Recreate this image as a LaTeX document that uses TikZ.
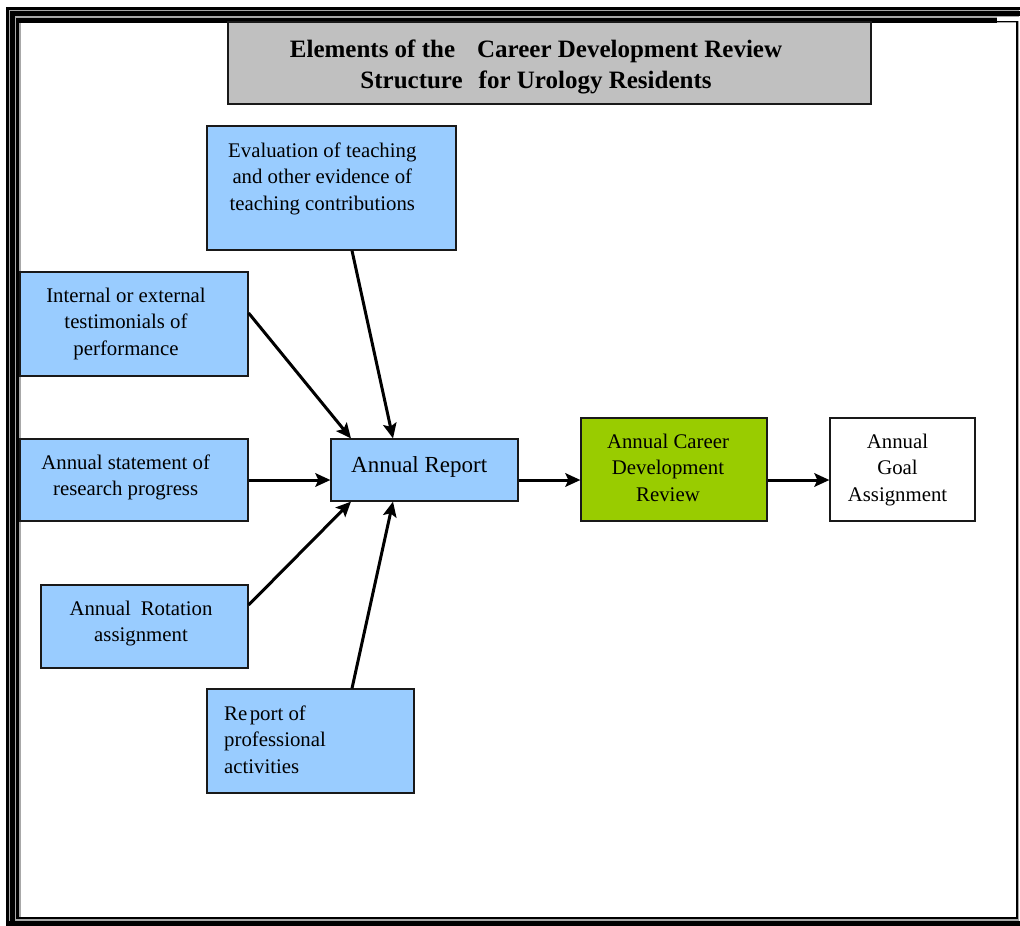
\documentclass[tikz,border=0pt]{standalone}
\usepackage{fontspec}
\setmainfont{Liberation Serif}
\newfontfamily\titlefont{Liberation Serif}
\usetikzlibrary{arrows.meta,calc}
\definecolor{boxblue}{HTML}{99CCFF}
\definecolor{boxgreen}{HTML}{99CC00}
\definecolor{titlegray}{HTML}{C0C0C0}
\definecolor{framegray}{HTML}{A8A8A8}
\newcommand{\mlc}[1]{\begin{tabular}[t]{@{}c@{}}#1\end{tabular}}
\newcommand{\mll}[1]{\begin{tabular}[t]{@{}l@{}}#1\end{tabular}}
\begin{document}
\begin{tikzpicture}[x=1pt,y=-1pt,
  box/.style={draw=black!90, line width=1.2pt, inner sep=0pt, rectangle},
  bluebox/.style={box, fill=boxblue},
  txt/.style={inner sep=0pt, anchor=base, font=\fontsize{20.8pt}{26.5pt}\selectfont},
  txtl/.style={txt, anchor=base west},
  conn/.style={line width=3pt, -{Stealth[length=15pt,width=13.5pt,inset=3pt]}}
]
\useasboundingbox (0,0) rectangle (1020,926);
% frame
\fill[white] (0,0) rectangle (1020,926);
\fill[framegray] (6,6.7) rectangle (1019,926);
\fill[white] (20.7,23) rectangle (1015.5,916.5);
\fill[white] (997,17.3) rectangle (1020,20.7);
\fill[white] (1019,17.3) rectangle (1020,921);
\fill[black] (6,6.7) rectangle (9,926);
\fill[black] (6,6.7) rectangle (1020,10);
\fill[black] (10.3,11.3) rectangle (15,926);
\fill[black] (10.3,11.3) rectangle (1020,15.7);
\fill[black] (6,921) rectangle (1020,926);
\fill[black] (16,18.3) rectangle (19.3,919.3);
\fill[black] (16,18.3) rectangle (997,22.7);
\fill[black] (997,20.7) rectangle (1017.7,21.6);
\fill[black] (1015.7,20.7) rectangle (1017.7,919.3);
\fill[black] (16,916.7) rectangle (1017.7,919.3);
% title
\node[box, fill=titlegray, minimum width=643pt, minimum height=82pt] (title) at (549.5,63) {};
\node[inner sep=0pt, anchor=base, font=\titlefont\bfseries\fontsize{25pt}{31pt}\selectfont] (titleT) at (536,57)
  {\mlc{Elements of the\hspace{22pt}Career Development Review\\Structure\hspace{16pt}for Urology Residents}};
% boxes
\node[bluebox, minimum width=249pt, minimum height=124pt] (eval) at (331.5,188) {};
\node[bluebox, minimum width=228pt, minimum height=104pt] (intl) at (134,324) {};
\node[bluebox, minimum width=228pt, minimum height=82pt] (stmt) at (134,480) {};
\node[bluebox, minimum width=207pt, minimum height=83pt] (rot) at (144.5,626.5) {};
\node[bluebox, minimum width=207pt, minimum height=104pt] (rep) at (310.5,741) {};
\node[bluebox, minimum width=187pt, minimum height=62pt] (ar) at (424.5,470) {};
\node[box, fill=boxgreen, minimum width=186pt, minimum height=103pt] (acdr) at (674,469.5) {};
\node[box, fill=white, minimum width=145pt, minimum height=103pt] (goal) at (902.5,469.5) {};
% texts
\node[txt] (evalT) at (322.3,157) {\mlc{Evaluation of teaching\\and other evidence of\\teaching contributions}};
\node[txt] (intlT) at (126,302) {\mlc{Internal or external\\testimonials of\\performance}};
\node[txt] (stmtT) at (125.7,469.3) {\mlc{Annual statement of\\research progress}};
\node[txt] (rotT) at (141,615) {\mlc{Annual\hspace{10pt}Rotation\\assignment}};
\node[txtl] (repT) at (224,720) {\mll{Re\hspace{2.5pt}port of\\professional\\activities}};
\node[txt, font=\fontsize{23pt}{28pt}\selectfont] (arT) at (419.2,472.3) {Annual Report};
\node[txt] (acdrT) at (668,448.3) {\mlc{Annual Career\\Development\\Review}};
\node[txt] (goalT) at (897.5,448.3) {\mlc{Annual\\Goal\\Assignment}};
% connectors
\draw[conn] ([xshift=20.5pt]eval.south) -- ([xshift=-31.5pt]ar.north);
\draw[conn] ([yshift=11pt]intl.east) -- ([xshift=-73.5pt]ar.north);
\draw[conn] (stmt.east) -- (ar.west |- stmt.east);
\draw[conn] ([yshift=21.5pt]rot.east) -- ([xshift=-73.5pt]ar.south);
\draw[conn] ([xshift=41.5pt]rep.north) -- ([xshift=-31.5pt]ar.south);
\draw[conn] (ar.east |- stmt.east) -- (acdr.west |- stmt.east);
\draw[conn] (acdr.east |- stmt.east) -- (goal.west |- stmt.east);
\end{tikzpicture}
\end{document}
